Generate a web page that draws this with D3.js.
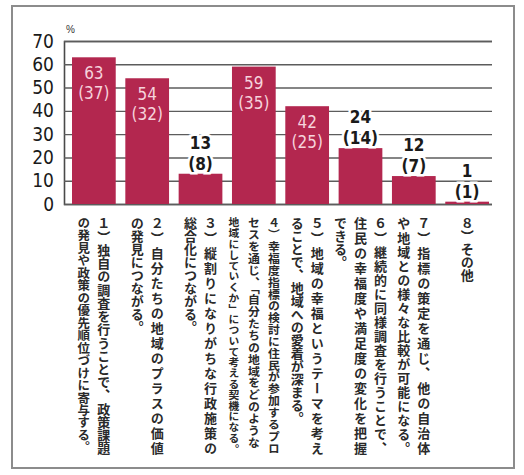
<!DOCTYPE html>
<html>
<head>
<meta charset="utf-8">
<script src="https://cdn.jsdelivr.net/npm/d3@7/dist/d3.min.js"></script>
<style>
  body { margin: 0; background: #fff; }
</style>
</head>
<body>
<svg id="chart" width="524" height="475"></svg>
<script>
// answers (full text) and how they are broken into vertical columns
const categories = [
  "１）独自の調査を行うことで、政策課題の発見や政策の優先順位づけに寄与する。",
  "２）自分たちの地域のプラスの価値の発見につながる。",
  "３）縦割りになりがちな行政施策の総合化につながる。",
  "４）幸福度指標の検討に住民が参加するプロセスを通じ、「自分たちの地域をどのような地域にしていくか」について考える契機になる。",
  "５）地域の幸福というテーマを考えることで、地域への愛着が深まる。",
  "６）継続的に同様調査を行うことで、住民の幸福度や満足度の変化を把握できる。",
  "７）指標の策定を通じ、他の自治体や地域との様々な比較が可能になる。",
  "８）その他"
];
const labelColumns = [
  ["１）独自の調査を行うことで、政策課題", "の発見や政策の優先順位づけに寄与する。"],
  ["２）自分たちの地域のプラスの価値", "の発見につながる。"],
  ["３）縦割りになりがちな行政施策の", "総合化につながる。"],
  ["４）幸福度指標の検討に住民が参加するプロ", "セスを通じ、「自分たちの地域をどのような", "地域にしていくか」について考える契機になる。"],
  ["５）地域の幸福というテーマを考え", "ることで、地域への愛着が深まる。"],
  ["６）継続的に同様調査を行うことで、", "住民の幸福度や満足度の変化を把握", "できる。"],
  ["７）指標の策定を通じ、他の自治体", "や地域との様々な比較が可能になる。"],
  ["８）その他"]
];
const percents = [63, 54, 13, 59, 42, 24, 12, 1];
const counts = [37, 32, 8, 35, 25, 14, 7, 1];
const yTicks = [0, 10, 20, 30, 40, 50, 60, 70];

const svg = d3.select("#chart");

const margin = { left: 64, top: 41, gridRight: 492, bandRight: 497, bottom: 204 };

// frame around the whole figure
svg.append("rect")
  .attr("x", 12).attr("y", 6)
  .attr("width", 502).attr("height", 462)
  .attr("fill", "none")
  .attr("stroke", "#8c8c8c")
  .attr("stroke-width", 2);

const x = d3.scaleBand()
  .domain(d3.range(percents.length))
  .range([margin.left, margin.bandRight])
  .paddingInner(0.18)
  .paddingOuter(0.15);

const y = d3.scaleLinear()
  .domain([0, 70])
  .range([margin.bottom, margin.top]);

// y axis + gridlines
const yAxis = svg.append("g")
  .attr("transform", `translate(${margin.left},0)`)
  .call(d3.axisLeft(y)
    .tickValues(yTicks)
    .tickSize(-(margin.gridRight - margin.left))
    .tickPadding(10));
yAxis.select(".domain").attr("stroke", "#4a4a4a").attr("stroke-width", 1.6);
yAxis.selectAll(".tick line").attr("stroke", "#5c5c5c").attr("stroke-width", 1.4);
yAxis.selectAll(".tick text")
  .attr("fill", "#1a1a1a")
  .style("font-family", "'Liberation Sans Narrow', 'DejaVu Sans Condensed', 'Liberation Sans', sans-serif")
  .style("font-size", "19px");

svg.append("text")
  .attr("x", margin.left + 2)
  .attr("y", margin.top - 8)
  .style("font-family", "'Liberation Sans', sans-serif")
  .style("font-size", "10px")
  .attr("fill", "#333")
  .text("%");

// bars
const barColor = "#b3274f";
const bars = svg.append("g").selectAll("g")
  .data(percents.map((p, i) => ({ i, p, n: counts[i] })))
  .join("g");

bars.append("rect")
  .attr("x", d => x(d.i))
  .attr("y", d => y(d.p))
  .attr("width", x.bandwidth())
  .attr("height", d => y(0) - y(d.p))
  .attr("fill", barColor);

// value labels: inside for tall bars, above for short ones
const numFont = "'Liberation Sans Narrow', 'DejaVu Sans Condensed', 'Liberation Sans', sans-serif";
bars.each(function (d) {
  const g = d3.select(this);
  const cx = x(d.i) + x.bandwidth() / 2;
  const inside = d.p >= 30;
  const lines = [String(d.p), `(${d.n})`];
  const ys = inside
    ? [y(d.p) + 22, y(d.p) + 42]
    : [y(d.p) - 25, y(d.p) - 4];
  lines.forEach((t, k) => {
    g.append("text")
      .attr("x", cx)
      .attr("y", ys[k])
      .attr("text-anchor", "middle")
      .style("font-family", numFont)
      .style("font-size", "17px")
      .style("font-weight", inside ? "normal" : "bold")
      .attr("fill", inside ? "#f6d3dc" : "#1a1a1a")
      .attr("stroke", inside ? "none" : "#fff")
      .attr("stroke-width", inside ? 0 : 5)
      .attr("paint-order", "stroke")
      .text(t);
  });
});

// vertical Japanese category text under each bar
const colGap = 20;
const colTop = 217;
const colLength = 238;
const baseSize = 13;
const labels = svg.append("g").selectAll("g")
  .data(labelColumns.map((cols, i) => ({ i, cols })))
  .join("g");

labels.each(function (d) {
  const g = d3.select(this);
  const cx = x(d.i) + x.bandwidth() / 2;
  const nCols = d.cols.length;
  d.cols.forEach((t, k) => {
    const n = Array.from(t).length;
    const last = k === nCols - 1;
    const justify = !last || n >= 17;
    // long columns get a smaller size so they fit the column height
    const size = Math.min(baseSize, (colLength - 1) / n);
    const txt = g.append("text")
      .attr("x", cx + ((nCols - 1) / 2) * colGap - k * colGap)
      .attr("y", colTop)
      .style("writing-mode", "vertical-rl")
      .style("font-family", "'Noto Sans CJK JP', sans-serif")
      .style("font-size", `${size}px`)
      .style("font-weight", "bold")
      .attr("fill", "#2a2a2a")
      .text(t);
    if (justify && n * size < colLength - 2) {
      txt.attr("textLength", colLength).attr("lengthAdjust", "spacing");
    }
  });
});
</script>
</body>
</html>
